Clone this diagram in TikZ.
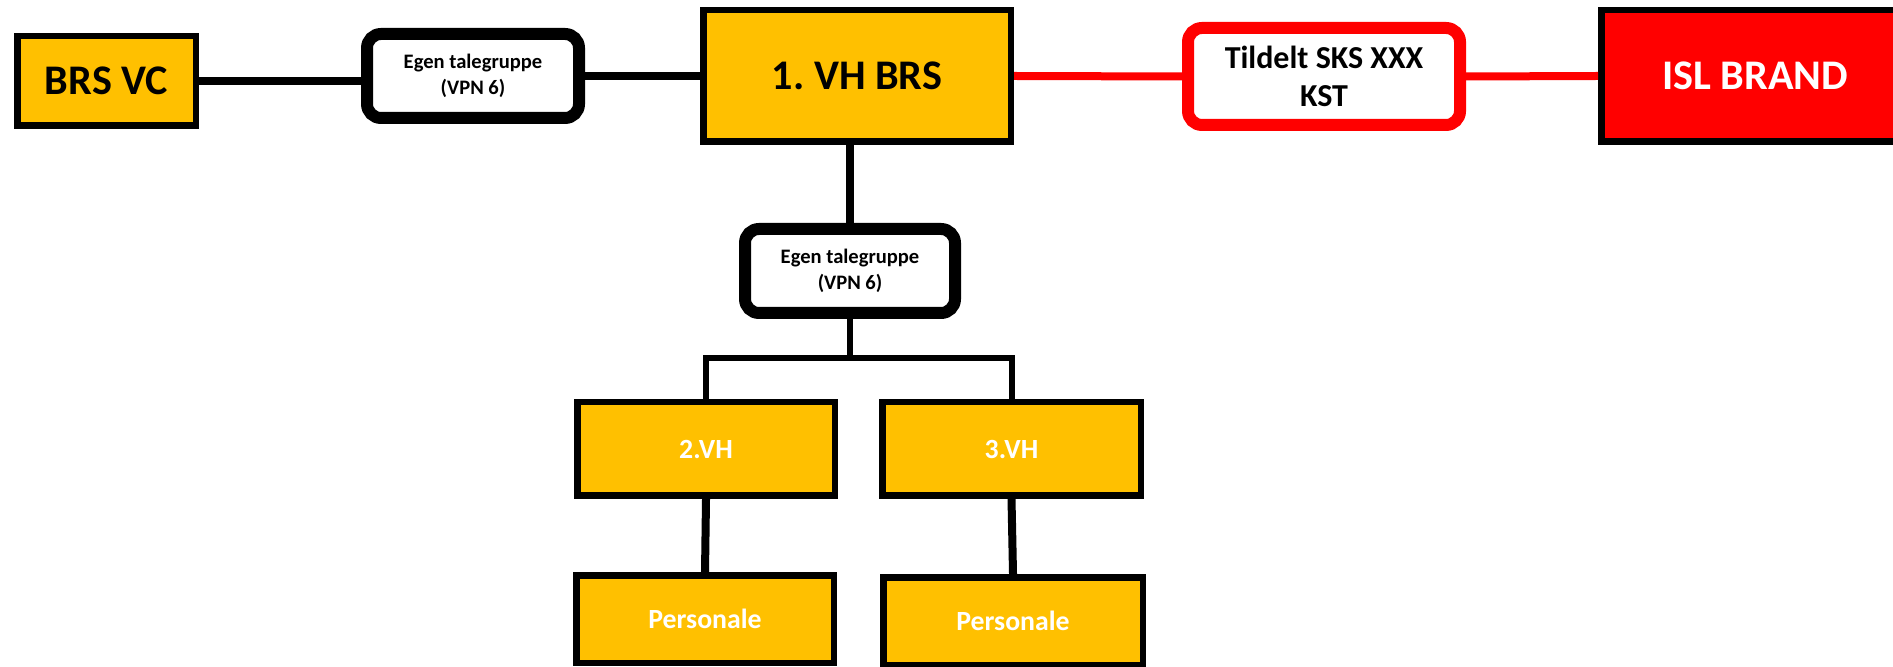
\documentclass[tikz,border=0pt]{standalone}
\usepackage{fontspec}
\setmainfont{Carlito}
\usepackage{xcolor}
\usepackage{tikz}
\frenchspacing
\definecolor{vhgold}{HTML}{FFC000}
\definecolor{brandred}{HTML}{FF0000}
\newcommand{\bigtxt}{\fontsize{12}{14}\selectfont\bfseries}
\newcommand{\midtxt}{\fontsize{9.1}{11}\selectfont\bfseries}
\newcommand{\smalltxt}{\fontsize{7.9}{9.5}\selectfont\bfseries}
\newcommand{\tinytxt}{\fontsize{5.85}{7.4}\selectfont\bfseries}

\begin{document}
\begin{tikzpicture}[x=0.1mm, y=-0.1mm,
    goldbox/.style={draw=black, fill=vhgold, line width=0.65mm, inner sep=0pt},
    talebox/.style={draw=black, fill=white, line width=1.2mm, rounded corners=1.4mm, inner sep=0pt, align=center, font=\tinytxt},
    wire/.style={line width=0.8mm},
    thinwire/.style={line width=0.6mm}]
    \useasboundingbox (0,0) rectangle (1893,667);
    \clip (0,0) rectangle (1893,667);

    % Top row
    \node (brsvc) at (106.5,81) [goldbox, minimum width=17.85mm, minimum height=8.95mm, font=\bigtxt] {BRS VC};
    \node (egen1) at (473,76) [talebox, minimum width=21.2mm, minimum height=8.4mm] {Egen talegruppe\\(VPN 6)};
    \node (vhbrs) at (857,76) [goldbox, minimum width=30.75mm, minimum height=13.15mm, font=\bigtxt] {1. VH BRS};
    \node (tildelt) at (1324,76.5) [talebox, draw=brandred, minimum width=27.2mm, minimum height=9.7mm, font=\midtxt] {Tildelt SKS XXX\\KST};
    \node (isl) at (1755,76) [goldbox, fill=brandred, text=white, minimum width=30.75mm, minimum height=13.15mm, font=\bigtxt] {ISL BRAND};

    % Talegruppe under 1. VH
    \node (egen2) at (850,271) [talebox, minimum width=21mm, minimum height=8.4mm] {Egen talegruppe\\(VPN 6)};

    % VH boxes and personale
    \node (vh2) at (706,449) [goldbox, text=white, minimum width=25.75mm, minimum height=9.35mm, font=\smalltxt] {2.VH};
    \node (vh3) at (1011.5,449) [goldbox, text=white, minimum width=25.85mm, minimum height=9.35mm, font=\smalltxt] {3.VH};
    \node (pers1) at (705,619) [goldbox, text=white, minimum width=25.75mm, minimum height=8.75mm, font=\smalltxt] {Personale};
    \node (pers2) at (1013,621) [goldbox, text=white, minimum width=25.95mm, minimum height=8.75mm, font=\smalltxt] {Personale};

    % Connectors
    \draw [wire] (brsvc.east) -- (brsvc.east -| egen1.west);
    \draw [wire] (egen1.east) -- (vhbrs.west);
    \draw [wire, brandred] (vhbrs.east) -- (tildelt.west);
    \draw [wire, brandred] (tildelt.east) -- (isl.west);
    \draw [wire] (egen2.north) -- (egen2.north |- vhbrs.south);
    \coordinate (fork) at (850,358);
    \draw [thinwire] (egen2.south) -- (fork);
    \draw [thinwire] (vh2.north) |- (fork) -| (vh3.north);
    \draw [wire] (vh2.south) -- (pers1.north);
    \draw [wire] (vh3.south) -- (pers2.north);
\end{tikzpicture}
\end{document}
